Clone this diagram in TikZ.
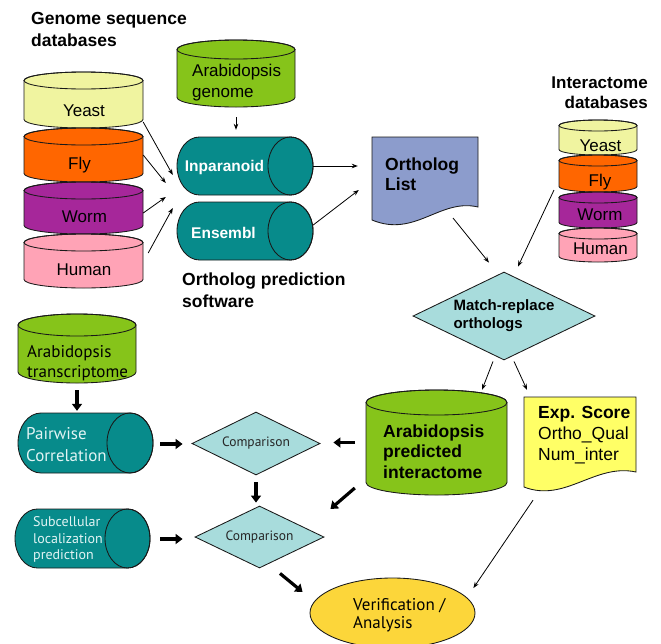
\documentclass[tikz,border=0pt]{standalone}
\usepackage{fontspec}
\setmainfont{Liberation Sans}
\newfontfamily\hum{PT Sans}
\usetikzlibrary{shapes.geometric,arrows.meta,calc}
\definecolor{cYeast}{HTML}{F0F4A0}
\definecolor{cFly}{HTML}{FF6600}
\definecolor{cWorm}{HTML}{A6279A}
\definecolor{cHuman}{HTML}{FFA3B6}
\definecolor{cLime}{HTML}{86C41A}
\definecolor{cTeal}{HTML}{078B8B}
\definecolor{cLav}{HTML}{8C9CCC}
\definecolor{cDia}{HTML}{A8DCDC}
\definecolor{cNote}{HTML}{FFFF66}
\definecolor{cGold}{HTML}{FCD63A}
\definecolor{cPale}{HTML}{E2F4F4}
\tikzset{
  outl/.style={draw=black!90, line width=0.85pt},
  tarr/.style={-{Stealth[length=6pt,width=4.5pt]}, line width=0.8pt},
  karr/.style={-{Triangle[length=7pt,width=10pt]}, line width=3.2pt},
  txt/.style={inner sep=0pt, align=left, anchor=west},
  ctxt/.style={inner sep=0pt, align=center},
}
\newcommand\fa{\fontsize{17}{21}\selectfont}
\newcommand\fab{\fontsize{17.5}{21.5}\selectfont\bfseries}
\newcommand\vcyl[7]{%
  \filldraw[outl, fill=#7] (#2,{#4+#6}) -- (#2,{#5-#6})
    arc[start angle=180,end angle=0,x radius={(#3-#2)/2},y radius=#6]
    -- (#3,{#4+#6})
    arc[start angle=0,end angle=-180,x radius={(#3-#2)/2},y radius=#6] -- cycle;
  \draw[outl] ({(#2+#3)/2},{#4+#6}) ellipse[x radius={(#3-#2)/2},y radius=#6];
  \node[inner sep=0pt,minimum width={(#3-#2)*1pt},minimum height={(#5-#4)*1pt}] (#1) at ({(#2+#3)/2},{(#4+#5)/2}) {};}
\newcommand\hcyl[7]{%
  \filldraw[outl, fill=#7] ({#2+#6},#4) -- ({#3-#6},#4)
    arc[start angle=-90,end angle=90,x radius=#6,y radius={(#5-#4)/2}]
    -- ({#2+#6},#5)
    arc[start angle=90,end angle=270,x radius=#6,y radius={(#5-#4)/2}] -- cycle;
  \draw[outl] ({#3-#6},{(#4+#5)/2}) ellipse[x radius=#6,y radius={(#5-#4)/2}];
  \node[inner sep=0pt,minimum width={(#3-#2)*1pt},minimum height={(#5-#4)*1pt}] (#1) at ({(#2+#3)/2},{(#4+#5)/2}) {};}
\begin{document}
\begin{tikzpicture}[x=1pt,y=1pt,yscale=-1]
\fill[white] (0,0) rectangle (661,643);
\useasboundingbox (0,0) rectangle (661,643);

% ---- titles
\node[txt, font=\fab] (gtitle) at (31,29.5) {Genome sequence\\databases};
\node[inner sep=0pt, align=right, anchor=east, font=\fontsize{17}{20}\selectfont\bfseries] (ititle) at (648,93) {Interactome\\databases};

% ---- left genome stack
\vcyl{yeastL}{24}{143}{72}{128}{8.5}{cYeast}
\vcyl{flyL}{24}{143}{128}{182}{8.5}{cFly}
\vcyl{wormL}{24}{143}{182}{234}{8.5}{cWorm}
\vcyl{humanL}{24}{143}{234}{288}{8.5}{cHuman}
\node[ctxt, font=\fa] (yeastLt) at (84,110.5) {Yeast};
\node[ctxt, font=\fa] (flyLt) at (79.5,165.5) {Fly};
\node[ctxt, font=\fa] (wormLt) at (84.5,216.5) {Worm};
\node[ctxt, font=\fa] (humanLt) at (84,269.5) {Human};

% ---- Arabidopsis genome
\vcyl{arabgen}{177}{295}{40}{107}{9.5}{cLime}
\node[txt, font=\fa] (arabgent) at (192,83) {Arabidopsis\\genome};

% ---- ortholog software
\hcyl{inpar}{177}{313}{137}{195}{22.5}{cTeal}
\hcyl{ensembl}{177}{313}{202}{260}{22.5}{cTeal}
\node[ctxt, text=white, font=\fontsize{15.5}{18}\selectfont\bfseries] (inpart) at (224.5,167.5) {Inparanoid};
\node[ctxt, text=white, font=\fontsize{15.5}{18}\selectfont\bfseries] (ensemblt) at (223.5,232.5) {Ensembl};
\node[txt, font=\fab] (osoft) at (182,290) {Ortholog prediction\\software};

% ---- ortholog list
\filldraw[outl, fill=cLav] (372,137) -- (478,137) -- (478,207)
  .. controls (440,198) and (415,238) .. (372,220) -- cycle;
\node[inner sep=0pt, minimum width=106pt, minimum height=85pt] (olist) at (425,179.5) {};
\node[txt, font=\fontsize{17.5}{20}\selectfont\bfseries] (olistt) at (385,174) {Ortholog\\List};

% ---- interactome stack
\vcyl{yeastR}{559}{637}{120}{155}{5.5}{cYeast}
\vcyl{flyR}{559}{637}{155}{192}{5.5}{cFly}
\vcyl{wormR}{559}{637}{192}{228}{5.5}{cWorm}
\vcyl{humanR}{559}{637}{228}{262}{5.5}{cHuman}
\node[ctxt, font=\fa] (yeastRt) at (600.5,146) {Yeast};
\node[ctxt, font=\fa] (flyRt) at (600,182) {Fly};
\node[ctxt, font=\fa] (wormRt) at (600,214.5) {Worm};
\node[ctxt, font=\fa] (humanRt) at (600.5,249) {Human};

% ---- match-replace
\node[diamond, outl, fill=cDia, aspect=2.07, inner sep=0pt, minimum width=182pt, minimum height=88pt,
      align=left, font=\fontsize{15}{18}\selectfont\bfseries] (match) at (504,316) {Match-replace\\orthologs};

% ---- predicted interactome
\vcyl{predint}{366}{507}{390}{495}{12.5}{cLime}
\node[txt, font=\fontsize{17.5}{20.5}\selectfont\bfseries] (predintt) at (383,451.5) {Arabidopsis\\predicted\\interactome};

% ---- exp score note
\filldraw[outl, fill=cNote] (524,397) -- (636,397) -- (636,472)
  .. controls (595,463) and (565,503) .. (524,487) -- cycle;
\node[inner sep=0pt, minimum width=112pt, minimum height=93pt] (expscore) at (580,443.5) {};
\node[txt, font=\fontsize{17.5}{21}\selectfont] (expscoret) at (538,435) {\textbf{Exp. Score}\\Ortho\_Qual\\Num\_inter};

% ---- verification
\node[ellipse, outl, fill=cGold, inner sep=0pt, minimum width=165pt, minimum height=70pt] (verif) at (392.5,613) {};
\node[txt, font=\hum\fontsize{17}{18.5}\selectfont] (veriftt) at (353,615) {Verification /\\Analysis};

% ---- lower left
\vcyl{transc}{18}{136}{314}{383}{11}{cLime}
\node[txt, font=\hum\fontsize{17}{20}\selectfont] (transct) at (27,363) {Arabidopsis\\transcriptome};
\hcyl{pairwise}{18}{153}{413}{473}{23}{cTeal}
\node[txt, text=cPale, font=\hum\fontsize{17}{22}\selectfont] (pairwiset) at (26,444.5) {Pairwise\\Correlation};
\hcyl{subcell}{15}{150}{509}{568}{22.5}{cTeal}
\node[txt, text=cPale, font=\hum\fontsize{14}{16.5}\selectfont] (subcellt) at (33,539.5) {Subcellular\\localization\\prediction};

\node[diamond, outl, fill=cDia, aspect=2.03, inner sep=0pt, minimum width=128pt, minimum height=63pt,
      text=black!85, font=\hum\fontsize{13.5}{15}\selectfont] (comp1) at (256,443.5) {Comparison};
\node[diamond, outl, fill=cDia, aspect=2.07, inner sep=0pt, minimum width=129pt, minimum height=62pt,
      text=black!85, font=\hum\fontsize{13.5}{15}\selectfont] (comp2) at (259.5,537) {Comparison};

% ---- thin connectors
\draw[tarr] ($(yeastL.east)+(0,22)$) -- ($(inpar.west)+(-4,9)$);
\draw[tarr] (flyL.east) -- ($(inpar.west)+(-11,17)$);
\draw[tarr] ($(wormL.east)+(0,5)$) -- ($(ensembl.west)+(-11,-34)$);
\draw[tarr] ($(humanL.east)+(5,-8)$) -- ($(ensembl.west)+(-4,-23)$);
\draw[tarr] ($(arabgen.south)+(0,10)$) -- ($(inpar.north)+(-9,-7)$);
\draw[tarr] (inpar.east) -- ($(olist.west)+(-14,-13.5)$);
\draw[tarr] ($(ensembl.east)+(0,-6)$) -- ($(olist.west)+(-13,10.5)$);
\draw[tarr] ($(olist.center)+(28,38.5)$) -- ($(match.north)+(-15,-9)$);
\draw[tarr] ($(flyR.center)+(-44,16.5)$) -- ($(match.north)+(14,-5)$);
\draw[tarr] ($(match.south)+(-11,1)$) -- ($(predint.north)+(45.5,0)$);
\draw[tarr] ($(match.south)+(10,1)$) -- ($(expscore.north)+(-53,-7)$);
\draw[tarr] ($(expscore.south)+(-47,10)$) -- ($(verif.east)+(-2,-25)$);

% ---- thick connectors
\draw[karr] ($(transc.south)+(0,7)$) -- ($(pairwise.north)+(-8.5,-2)$);
\draw[karr] ($(pairwise.east)+(7,1)$) -- ($(comp1.west)+(-9,0.5)$);
\draw[karr] ($(subcell.east)+(10,0.5)$) -- ($(comp2.west)+(-12,2)$);
\draw[karr] ($(comp1.south)+(0,7)$) -- ($(comp2.north)+(-3.5,-3)$);
\draw[karr] ($(predint.west)+(-11,0)$) -- ($(comp1.east)+(13,-1)$);
\draw[karr] ($(predint.west)+(-11,45.5)$) -- ($(comp2.east)+(6,-28)$);
\draw[karr] ($(comp2.south)+(20.5,5)$) -- ($(verif.west)+(-7,-21)$);
\end{tikzpicture}
\end{document}
